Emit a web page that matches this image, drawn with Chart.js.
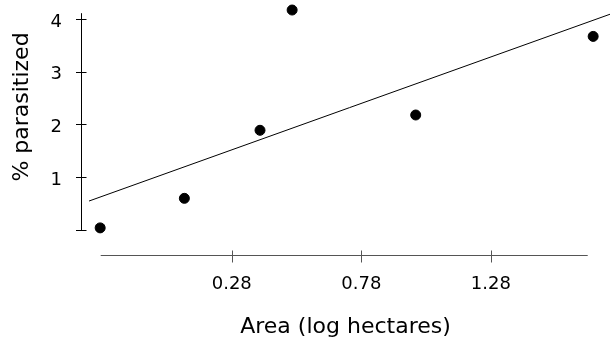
<!DOCTYPE html>
<html>
<head>
<meta charset="utf-8">
<script src="https://cdn.jsdelivr.net/npm/chart.js@4"></script>
<style>
  html, body { margin: 0; padding: 0; background: #fff; }
  #wrap { width: 610px; height: 339px; }
</style>
</head>
<body>
<div id="wrap"><canvas id="chart"></canvas></div>
<script>
// data
const areaLog = [-0.228, 0.097, 0.389, 0.513, 0.990, 1.675];
const parasitized = [0.04, 0.60, 1.89, 4.17, 2.18, 3.67];
const fitX = [-0.271, 1.74];
const fitY = [0.549, 4.09];
const xTicks = [0.28, 0.78, 1.28];
const yTicks = [0, 1, 2, 3, 4];
const yTickLabels = ['', '1', '2', '3', '4'];
// extent of the drawn axis lines (data units)
const xAxisSpan = [-0.226, 1.654];
const yAxisSpan = [0, 4.11];

const FONT = "'DejaVu Sans', 'Liberation Sans', sans-serif";

// hand drawn axes: detached lines with ticks crossing them
const axesPlugin = {
  id: 'axes',
  beforeDatasetsDraw(chart) {
    const { ctx, scales: { x, y } } = chart;
    ctx.save();
    ctx.strokeStyle = '#000';
    ctx.lineWidth = 1;

    const ax = 81.5;
    ctx.beginPath();
    ctx.moveTo(ax, y.getPixelForValue(yAxisSpan[1]));
    ctx.lineTo(ax, y.getPixelForValue(yAxisSpan[0]));
    yTicks.forEach(v => {
      const py = Math.round(y.getPixelForValue(v)) + 0.5;
      ctx.moveTo(ax - 5.5, py);
      ctx.lineTo(ax + 5, py);
    });
    ctx.stroke();

    const ay = 255.5;
    ctx.strokeStyle = '#555';
    ctx.beginPath();
    ctx.moveTo(x.getPixelForValue(xAxisSpan[0]), ay);
    ctx.lineTo(x.getPixelForValue(xAxisSpan[1]), ay);
    xTicks.forEach(v => {
      const px = Math.round(x.getPixelForValue(v)) + 0.5;
      ctx.moveTo(px, ay - 5);
      ctx.lineTo(px, ay + 7);
    });
    ctx.stroke();

    // y title
    ctx.fillStyle = '#000';
    ctx.font = '22px ' + FONT;
    ctx.textAlign = 'center';
    ctx.textBaseline = 'middle';
    ctx.translate(22, 107);
    ctx.rotate(-Math.PI / 2);
    ctx.fillText('% parasitized', 0, 0);
    ctx.restore();
  }
};

new Chart(document.getElementById('chart'), {
  type: 'scatter',
  data: {
    datasets: [{
      data: areaLog.map((v, i) => ({ x: v, y: parasitized[i] })),
      backgroundColor: '#000',
      borderColor: '#000',
      pointRadius: 5,
      pointHoverRadius: 5
    }, {
      data: fitX.map((v, i) => ({ x: v, y: fitY[i] })),
      showLine: true,
      borderColor: '#000',
      borderWidth: 1,
      pointRadius: 0
    }]
  },
  options: {
    responsive: true,
    maintainAspectRatio: false,
    animation: false,
    layout: { padding: 0, autoPadding: false },
    plugins: { legend: { display: false }, tooltip: { enabled: false } },
    scales: {
      x: {
        type: 'linear',
        min: -0.302,
        max: 1.74,
        grid: { display: false, drawTicks: false },
        border: { display: false },
        afterBuildTicks: s => { s.ticks = xTicks.map(v => ({ value: v })); },
        afterFit: s => { s.height = 83; s.paddingLeft = 0; s.paddingRight = 0; },
        ticks: {
          color: '#000',
          padding: 18,
          font: { family: FONT, size: 18 },
          callback: v => v.toFixed(2)
        },
        title: {
          display: true,
          text: 'Area (log hectares)',
          color: '#000',
          font: { family: FONT, size: 22, lineHeight: 1 },
          padding: { top: 0, bottom: 1 }
        }
      },
      y: {
        type: 'linear',
        min: -0.493,
        max: 4.36,
        grid: { display: false, drawTicks: false },
        border: { display: false },
        afterBuildTicks: s => { s.ticks = yTicks.map(v => ({ value: v })); },
        afterFit: s => { s.width = 81; s.paddingTop = 0; s.paddingBottom = 0; },
        ticks: {
          color: '#000',
          padding: 19,
          labelOffset: 3,
          font: { family: FONT, size: 18 },
          callback: (v, i) => yTickLabels[i]
        }
      }
    }
  },
  plugins: [axesPlugin]
});
</script>
</body>
</html>
